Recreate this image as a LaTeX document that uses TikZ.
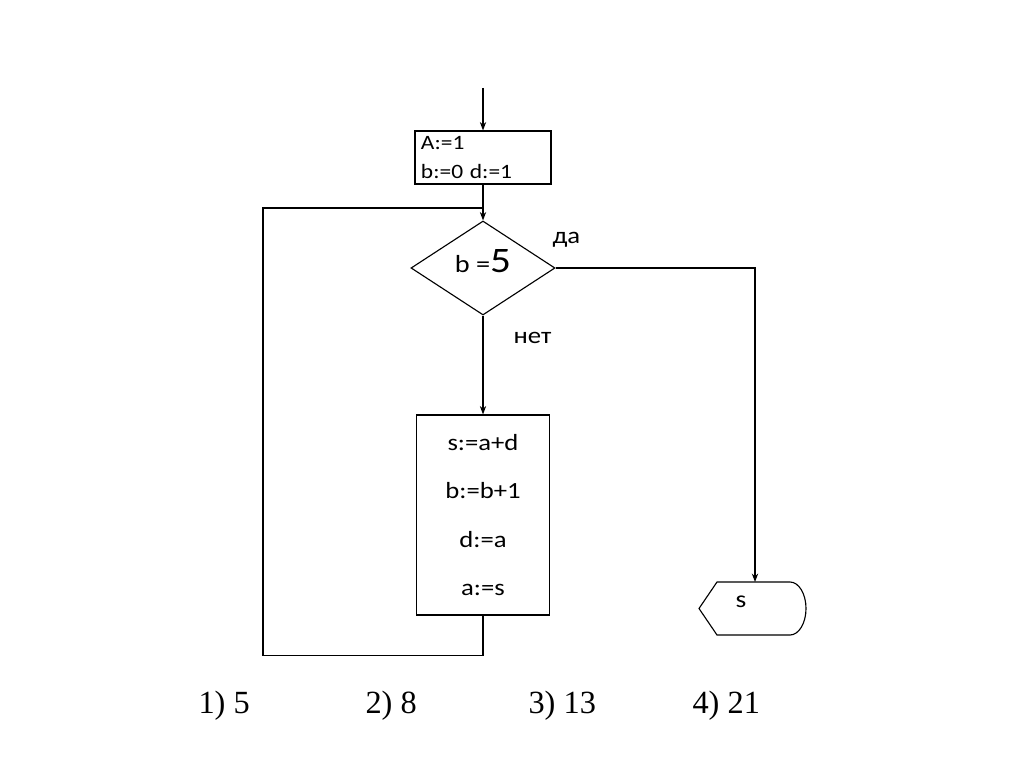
\documentclass[tikz,border=0pt]{standalone}
\usepackage{fontspec}
\setmainfont{Liberation Serif}
\newfontfamily\flowfont[FakeStretch=1.15]{Carlito}
\usetikzlibrary{shapes.geometric,arrows.meta,positioning}

\begin{document}
\begin{tikzpicture}[
    x=0.025cm, y=-0.025cm,
    line width=0.8pt,
    >={Stealth[length=6pt,width=4.5pt]},
    block/.style={rectangle, draw, inner sep=0pt, font=\flowfont},
    decision/.style={diamond, draw, aspect=1.55, inner sep=0pt, minimum width=3.6cm, minimum height=2.35cm, font=\flowfont},
    note/.style={font=\flowfont\fontsize{16.5}{18}\selectfont, anchor=base west, inner sep=0pt},
    answer/.style={font=\fontsize{23}{26}\selectfont, anchor=base west, inner sep=0pt}
]
\useasboundingbox (0,0) rectangle (1024,767);

\node[block, minimum width=3.4cm, minimum height=1.325cm, align=left, text width=3.1cm, font=\flowfont\fontsize{14.5}{20}\selectfont] (init) at (483,157.5) {A:=1\\b:=0 d:=1};
\node[decision, text height=16pt, text depth=9pt] (cond) at (483,268) {{\fontsize{17.5}{20}\selectfont b =}{\fontsize{25.5}{28}\selectfont 5}};
\node[block, minimum width=3.325cm, minimum height=5cm, align=center, font=\flowfont\fontsize{16.5}{34.5}\selectfont] (body) at (483,515) {s:=a+d\\b:=b+1\\d:=a\\a:=s};

\node[note] (yes) at (552,243) {да};
\node[note] (no) at (513,343) {нет};

% output
\node[font=\flowfont\fontsize{17}{20}\selectfont, inner sep=0pt, anchor=base west] (out) at (735,607) {s};
\draw (717,582) -- (790,582) arc[start angle=90, end angle=-90, x radius=0.4cm, y radius=0.6625cm] -- (717,635) -- (699,608.5) -- cycle;
\coordinate (outtop) at (755,582);

% Transitions
\coordinate (start) at (483,88);
\draw[->] (start) -- (init.north);
\draw[->] (init.south) -- (cond.north);
\draw[->] (cond.south) -- (body.north);
\draw[->] (cond.east) -| (outtop);

% loop back
\coordinate (join) at (483,208);
\draw (body.south) -- ++(0,40) -| (263,208) -- (join);

% answers
\node[answer] (ans1) at (198,713) {1) 5};
\node[answer] (ans2) at (365,713) {2) 8};
\node[answer] (ans3) at (528,713) {3) 13};
\node[answer] (ans4) at (692,713) {4) 21};

\end{tikzpicture}
\end{document}
